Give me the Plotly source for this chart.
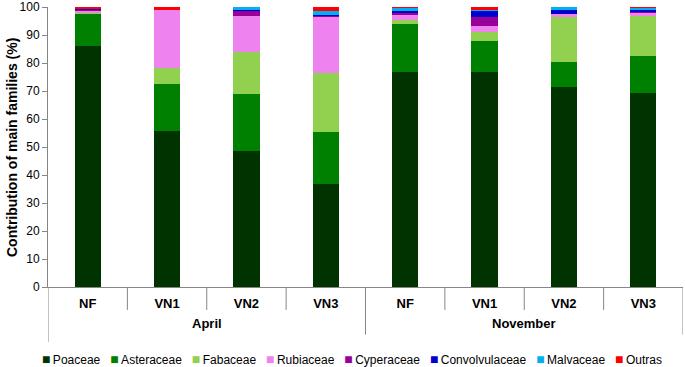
import plotly.graph_objects as go

months = ["April", "November"]
sites = ["NF", "VN1", "VN2", "VN3"]
categories = [f"{m} {s}" for m in months for s in sites]
tick_labels = sites * 2

families = ["Poaceae", "Asteraceae", "Fabaceae", "Rubiaceae", "Cyperaceae",
            "Convolvulaceae", "Malvaceae", "Outras"]
colors = ["#003300", "#008000", "#92D050", "#EE82EE", "#990099",
          "#0000CC", "#00B0F0", "#FF0000"]

Poaceae = [86.2, 55.7, 48.5, 36.8, 76.9, 76.9, 71.5, 69.4]
Asteraceae = [11.3, 16.7, 20.3, 18.4, 16.9, 11.0, 8.7, 13.0]
Fabaceae = [0.7, 5.7, 15.2, 21.1, 1.6, 3.1, 16.2, 14.4]
Rubiaceae = [0.4, 20.9, 12.8, 20.3, 1.7, 2.2, 1.1, 1.4]
Cyperaceae = [0.5, 0.0, 1.8, 0.5, 1.1, 3.2, 0.1, 0.2]
Convolvulaceae = [0.3, 0.0, 0.4, 0.1, 0.4, 2.2, 1.4, 0.4]
Malvaceae = [0.2, 0.1, 1.0, 1.5, 1.3, 0.4, 1.0, 0.8]
Outras = [0.5, 1.0, 0.3, 1.6, 0.4, 1.1, 0.3, 0.9]

series = [Poaceae, Asteraceae, Fabaceae, Rubiaceae, Cyperaceae,
          Convolvulaceae, Malvaceae, Outras]

xpos = list(range(len(categories)))

FONT = "Liberation Sans, Arial, sans-serif"
AXIS_COLOR = "#868686"

fig = go.Figure()
for name, vals, col in zip(families, series, colors):
    fig.add_trace(go.Bar(x=xpos, y=vals, name=name, marker_color=col,
                         marker_line_width=0, showlegend=False))

fig.update_layout(
    barmode="stack",
    bargap=0.67,
    width=685, height=367,
    margin=dict(l=48, r=2, t=7, b=80),
    paper_bgcolor="white", plot_bgcolor="white",
    font=dict(family=FONT, size=12, color="black"),
)

fig.update_yaxes(
    range=[0, 100], dtick=10, showgrid=False, zeroline=False,
    showline=True, linecolor=AXIS_COLOR, linewidth=1,
    ticks="outside", ticklen=5, tickcolor=AXIS_COLOR,
    tickfont=dict(size=12, family=FONT), automargin=False,
)
fig.update_xaxes(
    range=[-0.5, len(categories) - 0.5],
    tickmode="array", tickvals=xpos,
    ticktext=[f"<b>{t}</b>" for t in tick_labels],
    ticks="", showgrid=False, zeroline=False,
    showline=True, linecolor=AXIS_COLOR, linewidth=1,
    tickfont=dict(size=13, family=FONT), automargin=False,
    ticklabelstandoff=4,
)

# y-axis title
fig.add_annotation(x=-0.0567, xref="paper", y=0.5, yref="paper",
                   text="<b>Contribution of main families (%)</b>",
                   textangle=-90, showarrow=False,
                   xanchor="center", yanchor="middle",
                   font=dict(size=14, family=FONT))

# separators of the two-level category axis
n_sites = len(sites)
for i in range(len(categories) + 1):
    if i == 0:
        y1 = -0.196
    elif i % n_sites == 0:
        y1 = -0.17
    else:
        y1 = -0.082
    fig.add_shape(type="line", xref="x", yref="paper",
                  x0=i - 0.5, x1=i - 0.5, y0=0, y1=y1,
                  line=dict(color=AXIS_COLOR, width=1))

# month labels
for k, m in enumerate(months):
    center = k * n_sites + (n_sites - 1) / 2
    fig.add_annotation(x=center, xref="x", y=-0.132, yref="paper",
                       text=f"<b>{m}</b>", showarrow=False,
                       font=dict(size=13, family=FONT), yanchor="middle")

# legend (single line)
gap = "\u00a0\u00a0\u00a0"
legend_text = gap.join(
    f"<span style='color:{c};font-size:14px'>■</span>\u2009{n}"
    for n, c in zip(families, colors))
fig.add_annotation(x=0.4795, xref="paper", y=-0.257, yref="paper",
                   text=legend_text, showarrow=False, yanchor="middle",
                   font=dict(size=12, family=FONT))

fig.write_html("out.html",
               config={"displayModeBar": False},
               post_script="document.body.style.margin='0px';"
                           "document.body.style.overflow='hidden';")
